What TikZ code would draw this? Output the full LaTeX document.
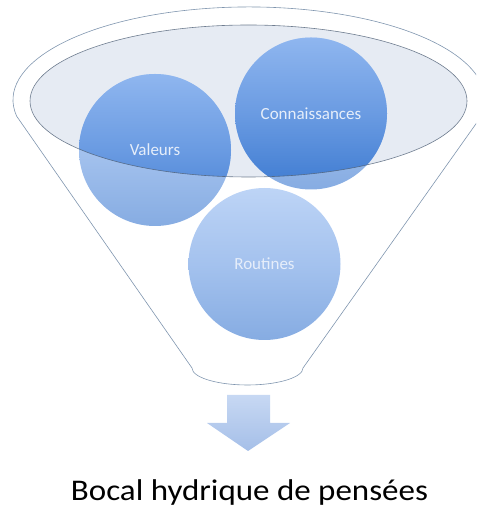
\documentclass[tikz,border=0pt]{standalone}
\usepackage{fontspec}
\setmainfont{Carlito}
\usetikzlibrary{positioning}
\definecolor{rim}{HTML}{7F95AE}
\definecolor{lidline}{HTML}{4E5F75}
\definecolor{lid}{HTML}{E6EBF3}
\definecolor{outtop}{HTML}{BDD4F6}
\definecolor{outmid}{HTML}{A4C2EE}
\definecolor{outbot}{HTML}{86ACE2}
\definecolor{intop}{HTML}{8FB6EF}
\definecolor{inmid}{HTML}{6A9BE2}
\definecolor{inbot}{HTML}{3E7BD1}
\definecolor{balltext}{HTML}{E6EEFA}
\definecolor{arrowtop}{HTML}{C7D8F3}
\definecolor{arrowbot}{HTML}{A5BFE8}

\begin{document}
\begin{tikzpicture}[x=1pt,y=1pt,
    outball/.style={top color=outtop, bottom color=outbot, middle color=outmid},
    inball/.style={top color=intop, bottom color=inbot, middle color=inmid},
    label/.style={text=balltext, font=\fontsize{17}{19}\selectfont}]
\useasboundingbox (0,0) rectangle (476,508);
\clip (0,0) rectangle (476,508);
% funnel outline
\draw[rim, line width=0.6pt] (16.6,391.9) arc[start angle=190, end angle=-10, x radius=236, y radius=93]
    -- (303,140) arc[start angle=0, end angle=-180, x radius=55.5, y radius=17] -- cycle;
% lid
\coordinate (lid) at (248.5,407);
\fill[lid] (lid) ellipse [x radius=218.5, y radius=76];
% balls
\coordinate (valeurs) at (155,358);
\coordinate (connaissances) at (311,394.5);
\coordinate (routines) at (264.5,244);
\foreach \b in {valeurs,connaissances,routines}
  \shade[outball] (\b) circle [radius=76];
\begin{scope}
  \clip (lid) ellipse [x radius=218.5, y radius=76];
  \foreach \b in {valeurs,connaissances}
    \shade[inball] (\b) circle [radius=76];
\end{scope}
\draw[lidline, line width=0.6pt, draw opacity=0.8] (lid) ellipse [x radius=218.5, y radius=76];
\node[label] (valtext) at (valeurs) {Valeurs};
\node[label] (context) at (connaissances) {Connaissances};
\node[label] (routext) at (routines) {Routines};
% down arrow
\shade[top color=arrowtop, bottom color=arrowbot] (227,113) -- (270,113) -- (270,85) -- (290,85)
    -- (248,57) -- (207,85) -- (227,85) -- cycle;
\node[font=\fontsize{30}{34}\selectfont, anchor=base, xscale=1.1] (bocal) at (249.5,8) {Bocal hydrique de pensées};
\end{tikzpicture}
\end{document}
